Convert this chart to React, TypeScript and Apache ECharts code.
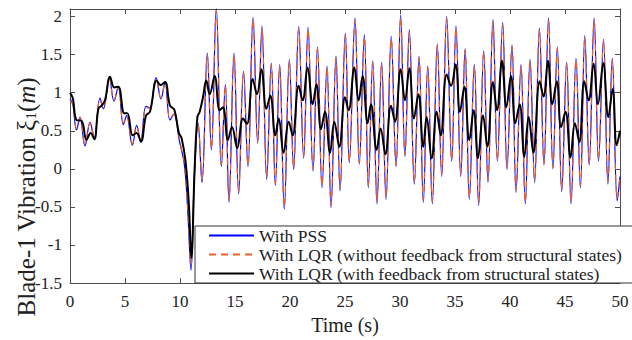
import { useEffect, useRef } from "react";
import * as echarts from "echarts";

const seriesNames = [
  "With PSS",
  "With LQR (without feedback from structural states)",
  "With LQR (with feedback from structural states)",
];

const xTickStep = 5;
const yTickStep = 0.5;

// [time (s), vibration (m)]
const pssData: [number, number][] = [
  [0, 0.92], [0.25, 0.85], [0.6, 0.51], [0.91, 0.68], [1.36, 0.3], [1.82, 0.61], [2.2, 0.4], [2.73, 0.93],
  [3.03, 0.79], [3.58, 1.19], [4.0, 0.89], [4.39, 1.08], [4.85, 0.58], [5.15, 0.7], [5.67, 0.31], [6.06, 0.57],
  [6.42, 0.35], [6.91, 0.82], [7.25, 0.8], [7.82, 1.2], [8.27, 0.92], [8.64, 1.14], [9.09, 0.64], [9.45, 0.72],
  [9.94, 0.37], [10.39, 0.06], [10.7, -0.54], [11.0, -1.33], [11.3, -0.15], [11.64, 0.6], [12.0, -0.18],
  [12.48, 1.52], [12.85, 0.25], [13.3, 2.11], [13.76, 0.03], [14.12, 1.11], [14.45, -0.44], [14.91, 1.52],
  [15.33, -0.33], [15.77, 1.28], [16.18, 0.03], [16.64, 1.99], [17.06, 0.34], [17.45, 1.88], [17.88, -0.14],
  [18.3, 1.39], [18.67, -0.22], [19.06, 1.37], [19.48, -0.53], [19.94, 1.44], [20.33, -0.01], [20.79, 1.87],
  [21.24, 0.14], [21.64, 1.86], [22.09, -0.03], [22.5, 1.6], [22.91, -0.25], [23.36, 1.35], [23.73, -0.51],
  [24.18, 1.48], [24.55, -0.29], [25.03, 1.78], [25.39, 0.08], [25.91, 1.98], [26.3, 0.06], [26.76, 1.76],
  [27.12, -0.25], [27.52, 1.42], [27.91, -0.46], [28.33, 1.4], [28.73, -0.4], [29.2, 1.74], [29.64, 0.03],
  [30.06, 2.02], [30.45, 0.16], [30.85, 1.83], [31.3, -0.2], [31.73, 1.48], [32.12, -0.44], [32.52, 1.35],
  [32.94, -0.46], [33.39, 1.64], [33.79, -0.1], [34.24, 2.0], [34.7, 0.1], [35.09, 1.88], [35.52, -0.1],
  [35.92, 1.58], [36.3, -0.4], [36.76, 1.37], [37.15, -0.48], [37.61, 1.55], [38.0, -0.18], [38.45, 1.96],
  [38.85, 0.1], [39.33, 1.92], [39.73, -0.01], [40.18, 1.63], [40.55, -0.31], [41.0, 1.37], [41.39, -0.46],
  [41.82, 1.44], [42.24, -0.18], [42.67, 1.85], [43.09, 0.05], [43.5, 1.98], [43.9, 0.0], [44.3, 1.6],
  [44.7, -0.3], [45.15, 1.4], [45.55, -0.46], [46.0, 1.45], [46.4, -0.25], [46.8, 1.75], [47.2, 0.05],
  [47.65, 1.98], [48.05, 0.1], [48.5, 1.7], [48.9, -0.2], [49.3, 1.45], [49.75, -0.42], [50, -0.1],
];

const lqrNoFbData: [number, number][] = [
  [0, 0.9], [0.25, 0.85], [0.6, 0.53], [0.91, 0.67], [1.36, 0.33], [1.82, 0.6], [2.2, 0.41], [2.73, 0.91],
  [3.03, 0.8], [3.58, 1.18], [4.0, 0.9], [4.39, 1.07], [4.85, 0.6], [5.15, 0.7], [5.67, 0.33], [6.06, 0.56],
  [6.42, 0.37], [6.91, 0.8], [7.25, 0.8], [7.82, 1.19], [8.27, 0.93], [8.64, 1.13], [9.09, 0.66], [9.45, 0.72],
  [9.94, 0.39], [10.39, 0.07], [10.7, -0.5], [11.0, -1.25], [11.3, -0.12], [11.64, 0.6], [12.0, -0.15],
  [12.48, 1.5], [12.85, 0.27], [13.3, 2.08], [13.76, 0.05], [14.12, 1.1], [14.45, -0.41], [14.91, 1.5],
  [15.33, -0.3], [15.77, 1.27], [16.18, 0.05], [16.64, 1.96], [17.06, 0.36], [17.45, 1.85], [17.88, -0.11],
  [18.3, 1.37], [18.67, -0.19], [19.06, 1.35], [19.48, -0.5], [19.94, 1.42], [20.33, 0.02], [20.79, 1.84],
  [21.24, 0.16], [21.64, 1.83], [22.09, 0.0], [22.5, 1.58], [22.91, -0.22], [23.36, 1.33], [23.73, -0.48],
  [24.18, 1.46], [24.55, -0.26], [25.03, 1.75], [25.39, 0.1], [25.91, 1.95], [26.3, 0.08], [26.76, 1.73],
  [27.12, -0.22], [27.52, 1.4], [27.91, -0.43], [28.33, 1.38], [28.73, -0.37], [29.2, 1.71], [29.64, 0.05],
  [30.06, 1.99], [30.45, 0.18], [30.85, 1.8], [31.3, -0.17], [31.73, 1.46], [32.12, -0.41], [32.52, 1.33],
  [32.94, -0.43], [33.39, 1.62], [33.79, -0.07], [34.24, 1.97], [34.7, 0.12], [35.09, 1.85], [35.52, -0.07],
  [35.92, 1.56], [36.3, -0.37], [36.76, 1.35], [37.15, -0.45], [37.61, 1.53], [38.0, -0.15], [38.45, 1.93],
  [38.85, 0.12], [39.33, 1.89], [39.73, 0.02], [40.18, 1.61], [40.55, -0.28], [41.0, 1.35], [41.39, -0.43],
  [41.82, 1.42], [42.24, -0.15], [42.67, 1.82], [43.09, 0.07], [43.5, 1.95], [43.9, 0.02], [44.3, 1.58],
  [44.7, -0.27], [45.15, 1.38], [45.55, -0.43], [46.0, 1.43], [46.4, -0.22], [46.8, 1.72], [47.2, 0.07],
  [47.65, 1.95], [48.05, 0.12], [48.5, 1.68], [48.9, -0.17], [49.3, 1.43], [49.75, -0.39], [50, -0.08],
];

const lqrFbData: [number, number][] = [
  [0, 1.0], [0.25, 0.93], [0.6, 0.64], [1.06, 0.63], [1.5, 0.38], [1.88, 0.47], [2.21, 0.39], [2.58, 0.79],
  [2.88, 0.83], [3.18, 0.9], [3.64, 1.21], [4.03, 1.07], [4.39, 1.08], [4.94, 0.73], [5.21, 0.73], [5.7, 0.44],
  [6.05, 0.47], [6.45, 0.36], [6.91, 0.7], [7.27, 0.75], [7.88, 1.16], [8.24, 1.1], [8.64, 1.14], [9.09, 0.83],
  [9.48, 0.78], [9.9, 0.47], [10.15, 0.4], [10.5, 0.1], [10.8, -0.45], [11.03, -1.17], [11.33, 0.0],
  [11.58, 0.68], [11.79, 0.75], [12.09, 0.94], [12.39, 1.16], [12.7, 0.98], [13.15, 1.22], [13.61, 0.77],
  [13.91, 0.81], [14.36, 0.38], [14.73, 0.55], [15.2, 0.27], [15.73, 0.66], [16.09, 0.59], [16.61, 1.18],
  [17.0, 0.98], [17.4, 1.31], [17.85, 0.79], [18.21, 0.96], [18.67, 0.44], [18.97, 0.66], [19.42, 0.21],
  [19.88, 0.62], [20.24, 0.44], [20.79, 1.09], [21.15, 0.9], [21.6, 1.33], [22.06, 0.85], [22.4, 1.11],
  [22.82, 0.52], [23.18, 0.75], [23.64, 0.21], [24.03, 0.62], [24.48, 0.29], [25.0, 0.94], [25.33, 0.77],
  [25.85, 1.33], [26.24, 0.9], [26.6, 1.22], [27.06, 0.6], [27.36, 0.85], [27.88, 0.25], [28.24, 0.53],
  [28.67, 0.19], [29.18, 0.83], [29.55, 0.62], [30.06, 1.31], [30.45, 0.9], [30.85, 1.32], [31.27, 0.66],
  [31.67, 0.98], [32.12, 0.29], [32.42, 0.68], [32.88, 0.14], [33.33, 0.75], [33.7, 0.44], [34.24, 1.24],
  [34.64, 1.09], [35.06, 1.37], [35.45, 0.75], [35.85, 1.08], [36.3, 0.38], [36.7, 0.77], [37.09, 0.14],
  [37.55, 0.7], [37.94, 0.29], [38.45, 1.14], [38.82, 0.77], [39.27, 1.42], [39.67, 0.81], [40.09, 1.22],
  [40.48, 0.6], [40.88, 0.85], [41.3, 0.16], [41.7, 0.68], [42.12, 0.21], [42.7, 1.15], [43.05, 0.95],
  [43.45, 1.42], [43.85, 0.85], [44.25, 1.15], [44.65, 0.55], [45.05, 0.75], [45.5, 0.15], [45.9, 0.6],
  [46.3, 0.35], [46.75, 1.15], [47.15, 0.9], [47.6, 1.38], [48.0, 0.85], [48.48, 1.39], [48.94, 0.68],
  [49.33, 1.05], [49.7, 0.31], [50, 0.5],
];

const FONT = "'Liberation Serif', 'Times New Roman', serif";
const AXIS_COLOR = "#4d4d4d";
const TEXT_COLOR = "#222222";

export default function App() {
  const ref = useRef<HTMLDivElement>(null);

  useEffect(() => {
    document.body.style.margin = "0";
    const chart = echarts.init(ref.current!, null, { renderer: "svg" });
    const xCommon = {
      type: "value" as const,
      min: 0,
      max: 50,
      interval: xTickStep,
      splitLine: { show: false },
      axisLine: { show: true, onZero: false, lineStyle: { color: AXIS_COLOR, width: 1 } },
      axisTick: { show: true, inside: true, length: 5, lineStyle: { color: AXIS_COLOR } },
    };
    const yCommon = {
      type: "value" as const,
      min: -1.5,
      max: 2.1,
      interval: yTickStep,
      splitLine: { show: false },
      axisLine: { show: true, onZero: false, lineStyle: { color: AXIS_COLOR, width: 1 } },
      axisTick: { show: true, inside: true, length: 5, lineStyle: { color: AXIS_COLOR } },
    };
    chart.setOption({
      animation: false,
      backgroundColor: "#ffffff",
      grid: { left: 70, right: 12, top: 9, bottom: 53, containLabel: false },
      xAxis: [
        {
          ...xCommon,
          position: "bottom",
          axisLabel: { fontSize: 17, fontFamily: FONT, color: TEXT_COLOR, margin: 10 },
          name: "Time (s)",
          nameLocation: "middle",
          nameGap: 32,
          nameTextStyle: { fontSize: 20, fontFamily: FONT, color: TEXT_COLOR },
        },
        { ...xCommon, position: "top", axisLabel: { show: false } },
      ],
      yAxis: [
        {
          ...yCommon,
          position: "left",
          axisLabel: {
            fontSize: 17,
            fontFamily: FONT,
            color: TEXT_COLOR,
            margin: 8,
            showMaxLabel: false,
          },
        },
        { ...yCommon, position: "right", axisLabel: { show: false } },
      ],
      legend: {
        orient: "vertical",
        left: 195,
        top: 226,
        itemWidth: 45,
        itemHeight: 19,
        itemGap: 0,
        padding: [0, 12, 0, 13],
        backgroundColor: "#ffffff",
        borderColor: "#333333",
        borderWidth: 1,
        borderRadius: 0,
        itemStyle: { color: "rgba(0,0,0,0)", borderWidth: 0, opacity: 0 },
        textStyle: { fontSize: 17.5, fontFamily: FONT, color: TEXT_COLOR, lineHeight: 19 },
        data: seriesNames,
      },
      graphic: [
        {
          type: "text",
          x: 26,
          y: 197,
          rotation: Math.PI / 2,
          z: 10,
          style: {
            text: "Blade-1 Vibration ξ{sub|1}({it|m})",
            fontSize: 25,
            fontFamily: FONT,
            fill: TEXT_COLOR,
            align: "center",
            verticalAlign: "middle",
            textAlign: "center",
            textVerticalAlign: "middle",
            rich: {
              sub: { fontSize: 15, fontFamily: FONT, fill: TEXT_COLOR, verticalAlign: "bottom", padding: [9, 0, 0, 0] },
              it: { fontSize: 25, fontFamily: FONT, fontStyle: "italic", fill: TEXT_COLOR },
            },
          },
        },
      ],
      series: [
        {
          name: seriesNames[0],
          type: "line",
          data: pssData,
          smooth: 0.4,
          showSymbol: false,
          symbol: "none",
          lineStyle: { color: "#0000ff", width: 1.2 },
          itemStyle: { color: "#0000ff" },
          z: 2,
        },
        {
          name: seriesNames[1],
          type: "line",
          data: lqrNoFbData,
          smooth: 0.4,
          showSymbol: false,
          symbol: "none",
          lineStyle: { color: "#e8602c", width: 1.2, type: [7, 5] },
          itemStyle: { color: "#e8602c" },
          z: 3,
        },
        {
          name: seriesNames[2],
          type: "line",
          data: lqrFbData,
          smooth: 0.4,
          showSymbol: false,
          symbol: "none",
          lineStyle: { color: "#000000", width: 2 },
          itemStyle: { color: "#000000" },
          z: 4,
        },
      ],
    });
    return () => chart.dispose();
  }, []);

  return <div ref={ref} style={{ width: 632, height: 340 }} />;
}
